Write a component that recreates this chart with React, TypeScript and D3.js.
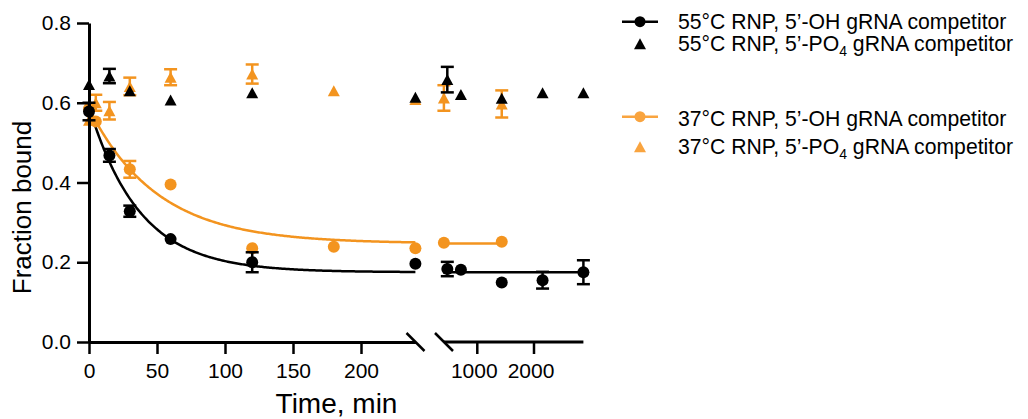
import React, { useEffect, useRef } from 'react';
import * as d3 from 'd3';

// time points (min) and fraction bound
const tBlackOH = [0, 15, 30, 60, 120, 240, 480, 720, 1440, 2160, 2880];
const yBlackOH = [0.578, 0.468, 0.328, 0.258, 0.2, 0.196, 0.183, 0.181, 0.149, 0.155, 0.175];
const eBlackOH = [0.022, 0.016, 0.014, 0, 0.025, 0, 0.018, 0, 0, 0.021, 0.03];

const tBlackPO4 = [0, 15, 30, 60, 120, 240, 480, 720, 1440, 2160, 2880];
const yBlackPO4 = [0.646, 0.667, 0.63, 0.607, 0.625, 0.614, 0.658, 0.621, 0.611, 0.625, 0.625];
const eBlackPO4 = [0, 0.018, 0, 0, 0, 0, 0.032, 0, 0, 0, 0];

const tOrangeOH = [0, 5, 30, 60, 120, 180, 240, 420, 1440];
const yOrangeOH = [0.585, 0.553, 0.433, 0.395, 0.235, 0.239, 0.235, 0.249, 0.2515];
const eOrangeOH = [0, 0, 0.021, 0, 0, 0, 0, 0, 0];

const tOrangePO4 = [0, 5, 15, 30, 60, 120, 180, 240, 420, 1440];
const yOrangePO4 = [0.556, 0.6, 0.58, 0.641, 0.664, 0.672, 0.63, 0.608, 0.612, 0.597];
const eOrangePO4 = [0, 0.02, 0.022, 0.022, 0.02, 0.024, 0, 0, 0.032, 0.034];

// one-phase decay fits (Y0, plateau, k)
const fitBlack = [0.59, 0.175, 0.027];
const fitOrange = [0.586, 0.247, 0.02];

const yTicks = [0, 0.2, 0.4, 0.6, 0.8];
const xTicksLeft = [0, 50, 100, 150, 200];
const xTicksRight = [1000, 2000];

const legendLabels = [
  ['55°C RNP, 5’-OH gRNA competitor', ''],
  ['55°C RNP, 5’-PO', '4'],
  ['37°C RNP, 5’-OH gRNA competitor', ''],
  ['37°C RNP, 5’-PO', '4'],
];

const BLACK = '#000000';
const ORANGE = '#f3941f';
const ORANGE_LEG = '#f9a43f';
const FONT = 'Liberation Sans, Arial, Helvetica, sans-serif';

const y = d3.scaleLinear().domain([0, 0.8]).range([342, 23]);
const x1 = d3.scaleLinear().domain([0, 240]).range([89, 415.4]);
const x2 = d3.scaleLinear().domain([360, 2880]).range([440.5, 583.4]);
const xPos = (t: number) => (t <= 300 ? x1(t) : x2(t));

const decay = (p: number[]) => (t: number) => p[1] + (p[0] - p[1]) * Math.exp(-p[2] * t);

const triPath = (cx: number, cy: number, w = 12, h = 11) =>
  `M${cx},${cy - h / 2}L${cx + w / 2},${cy + h / 2}L${cx - w / 2},${cy + h / 2}Z`;

const series = [
  { t: tOrangePO4, v: yOrangePO4, e: eOrangePO4, color: ORANGE, shape: 'tri' },
  { t: tOrangeOH, v: yOrangeOH, e: eOrangeOH, color: ORANGE, shape: 'circle' },
  { t: tBlackPO4, v: yBlackPO4, e: eBlackPO4, color: BLACK, shape: 'tri' },
  { t: tBlackOH, v: yBlackOH, e: eBlackOH, color: BLACK, shape: 'circle' },
];

const fits = [
  { p: fitOrange, t: tOrangeOH, color: ORANGE },
  { p: fitBlack, t: tBlackOH, color: BLACK },
];

const App = () => {
  const yAxisRef = useRef<SVGGElement>(null);
  const xAxisLRef = useRef<SVGGElement>(null);
  const xAxisRRef = useRef<SVGGElement>(null);

  useEffect(() => {
    const style = (g: any) => {
      g.select('.domain').attr('stroke-width', 3).attr('stroke', BLACK);
      g.selectAll('.tick line').attr('stroke-width', 2.5).attr('stroke', BLACK);
      g.selectAll('.tick text')
        .attr('font-family', FONT)
        .attr('font-size', 21)
        .attr('fill', BLACK);
    };
    d3.select(yAxisRef.current)
      .call(d3.axisLeft(y).tickValues(yTicks).tickFormat(d3.format('.1f')).tickSize(12).tickSizeOuter(0).tickPadding(6) as any)
      .call(style);
    d3.select(xAxisLRef.current)
      .call(d3.axisBottom(x1).tickValues(xTicksLeft).tickFormat(d3.format('d')).tickSize(12).tickSizeOuter(0).tickPadding(9) as any)
      .call(style);
    const gr = d3.select(xAxisRRef.current)
      .call(d3.axisBottom(x2).tickValues(xTicksRight).tickFormat(d3.format('d')).tickSize(12).tickSizeOuter(0).tickPadding(9) as any)
      .call(style);
    gr.select('.domain').remove();
    gr.selectAll('.tick text').attr('dx', -3);
  }, []);

  const line = d3.line<number>();

  return (
    <svg width={1028} height={419} style={{ position: 'absolute', left: 0, top: 0, background: '#fff' }}>
      {/* fitted curves */}
      {fits.map((f, i) => {
        const fn = decay(f.p);
        const left = d3.range(0, 240.5, 1).map((t) => [x1(t), y(fn(t))] as [number, number]);
        const rt = f.t.filter((t) => t > 300);
        const right = d3.range(rt[0], rt[rt.length - 1] + 1, 10).map((t) => [x2(t), y(fn(t))] as [number, number]);
        return (
          <g key={'fit' + i} fill="none" stroke={f.color} strokeWidth={2.5}>
            <path d={d3.line()(left) || ''} />
            <path d={d3.line()(right) || ''} />
          </g>
        );
      })}

      {/* points with error bars */}
      {series.map((s, si) => (
        <g key={'s' + si}>
          {s.t.map((t, i) => {
            const cx = xPos(t);
            const cy = y(s.v[i]);
            const e = s.e[i];
            return (
              <g key={i}>
                {e > 0 && (
                  <g stroke={s.color} strokeWidth={2.5}>
                    <line x1={cx} x2={cx} y1={y(s.v[i] - e)} y2={y(s.v[i] + e)} />
                    <line x1={cx - 6.5} x2={cx + 6.5} y1={y(s.v[i] - e)} y2={y(s.v[i] - e)} />
                    <line x1={cx - 6.5} x2={cx + 6.5} y1={y(s.v[i] + e)} y2={y(s.v[i] + e)} />
                  </g>
                )}
                {s.shape === 'circle' ? (
                  <circle cx={cx} cy={cy} r={6} fill={s.color} />
                ) : (
                  <path d={triPath(cx, cy)} fill={s.color} />
                )}
              </g>
            );
          })}
        </g>
      ))}

      {/* axes */}
      <g ref={yAxisRef} transform="translate(89,0)" />
      <g ref={xAxisLRef} transform="translate(0,342)" />
      <g ref={xAxisRRef} transform="translate(0,342)" />
      <path d={line([[444, 342], [x2(2880), 342]]) || ''} stroke={BLACK} strokeWidth={3} />
      {/* axis break marks */}
      <g stroke={BLACK} strokeWidth={2.5}>
        <line x1={406.5} y1={333} x2={424.5} y2={351} />
        <line x1={435} y1={333} x2={453} y2={351} />
      </g>

      {/* axis titles */}
      <text x={336.5} y={413} textAnchor="middle" fontFamily={FONT} fontSize={28} fill={BLACK}>
        Time, min
      </text>
      <text transform="translate(31,207.5) rotate(-90)" textAnchor="middle" fontFamily={FONT} fontSize={26} fill={BLACK}>
        Fraction bound
      </text>

      {/* legend */}
      {legendLabels.map((lab, i) => {
        const cy = [21.7, 43.8, 116.7, 146.7][i];
        const base = [29, 51, 126, 154][i];
        const col = i < 2 ? BLACK : ORANGE_LEG;
        const isLine = i % 2 === 0;
        return (
          <g key={'leg' + i}>
            {isLine ? (
              <g>
                <line x1={622} x2={658} y1={cy} y2={cy} stroke={col} strokeWidth={2.5} />
                <circle cx={640} cy={cy} r={5.5} fill={col} />
              </g>
            ) : (
              <path d={triPath(640, cy, 12, 11)} fill={col} />
            )}
            <text x={678} y={base} fontFamily={FONT} fontSize={21.2} fill={BLACK}>
              {lab[0]}
              {lab[1] && (
                <>
                  <tspan fontSize={14} dy={5}>{lab[1]}</tspan>
                  <tspan dy={-5}> gRNA competitor</tspan>
                </>
              )}
            </text>
          </g>
        );
      })}
    </svg>
  );
};

export default App;
